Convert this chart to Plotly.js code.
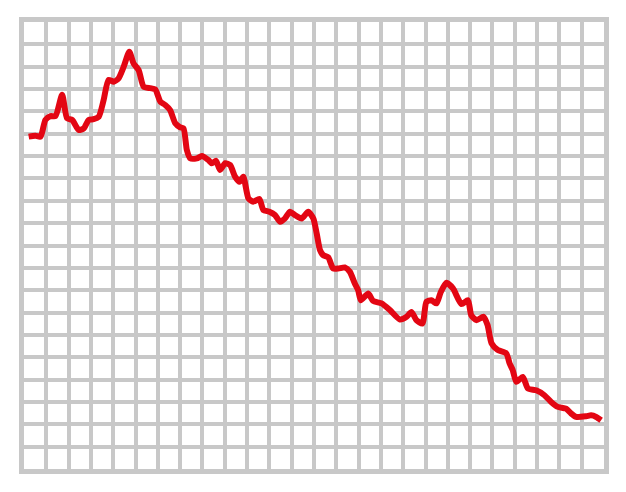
<!DOCTYPE html>
<html>
<head>
<meta charset="utf-8">
<script src="https://cdn.plot.ly/plotly-3.0.1.min.js"></script>
<style>
  html, body { margin: 0; padding: 0; background: #fff; }
  #chart { width: 626px; height: 492px; }
</style>
</head>
<body>
<div id="chart"></div>
<script>
// Grid is 26 columns by 20 rows, one data unit per cell
const gridCols = 26;
const gridRows = 20;

// Line, in grid units
const xValues = [
  0.21, 0.51, 0.74, 0.96, 1.19, 1.41, 1.71, 1.93, 2.16, 2.45,
  2.68, 2.90, 3.12, 3.35, 3.57, 3.79, 4.02, 4.24, 4.47, 4.72,
  4.91, 5.14, 5.36, 5.66, 5.88, 6.11, 6.33, 6.55, 6.78, 7.00,
  7.15, 7.30, 7.45, 7.75, 7.97, 8.27, 8.42, 8.61, 8.79, 9.02,
  9.24, 9.46, 9.66, 9.83, 10.06, 10.28, 10.55, 10.73, 11.00, 11.25,
  11.48, 11.70, 11.92, 12.15, 12.45, 12.74, 12.97, 13.12, 13.27, 13.41,
  13.64, 13.86, 14.09, 14.38, 14.61, 14.83, 14.98, 15.10, 15.43, 15.65,
  16.03, 16.40, 16.85, 17.15, 17.37, 17.59, 17.86, 18.04, 18.26, 18.49,
  18.68, 18.94, 19.23, 19.61, 19.90, 20.05, 20.28, 20.60, 20.78, 20.96,
  21.24, 21.62, 21.77, 21.91, 22.07, 22.36, 22.59, 22.96, 23.33, 23.63,
  23.93, 24.30, 24.53, 24.75, 25.20, 25.42, 25.65, 25.87
];
const yValues = [
  14.87, 14.91, 14.87, 15.62, 15.79, 15.79, 16.74, 15.69, 15.62, 15.17,
  15.24, 15.62, 15.65, 15.76, 16.51, 17.41, 17.33, 17.48, 18.00, 18.67,
  18.15, 17.85, 17.11, 17.04, 16.99, 16.44, 16.29, 16.06, 15.47, 15.29,
  15.24, 14.27, 13.90, 13.90, 14.00, 13.82, 13.68, 13.79, 13.38, 13.68,
  13.60, 13.08, 12.85, 13.08, 12.11, 11.96, 12.08, 11.59, 11.51, 11.36,
  11.06, 11.21, 11.51, 11.36, 11.21, 11.51, 11.21, 10.54, 9.79, 9.57,
  9.47, 8.97, 8.97, 9.02, 8.82, 8.30, 8.00, 7.55, 7.85, 7.52,
  7.41, 7.11, 6.69, 6.81, 7.03, 6.66, 6.51, 7.48, 7.55, 7.41,
  7.91, 8.33, 8.08, 7.38, 7.55, 6.88, 6.66, 6.81, 6.44, 5.62,
  5.32, 5.17, 4.72, 4.42, 3.90, 4.12, 3.60, 3.52, 3.30, 3.00,
  2.78, 2.70, 2.48, 2.33, 2.36, 2.40, 2.33, 2.18
];

const gridColor = '#c8c8c8';
const lineColor = '#e30613';

const data = [
  {
    type: 'scatter',
    mode: 'lines',
    x: xValues,
    y: yValues,
    line: { color: lineColor, width: 6, shape: 'spline', smoothing: 0.6 },
    hoverinfo: 'skip'
  }
];

function gridAxis(count) {
  return {
    range: [0, count],
    dtick: 1,
    tick0: 0,
    showgrid: true,
    gridcolor: gridColor,
    gridwidth: 4,
    zeroline: false,
    showline: true,
    linecolor: gridColor,
    linewidth: 5,
    mirror: true,
    showticklabels: false,
    ticks: '',
    fixedrange: true
  };
}

const layout = {
  width: 626,
  height: 492,
  margin: { l: 24, r: 22, t: 22, b: 23 },
  paper_bgcolor: '#ffffff',
  plot_bgcolor: '#ffffff',
  showlegend: false,
  xaxis: gridAxis(gridCols),
  yaxis: gridAxis(gridRows)
};

Plotly.newPlot('chart', data, layout, { staticPlot: true, displayModeBar: false });
</script>
</body>
</html>
